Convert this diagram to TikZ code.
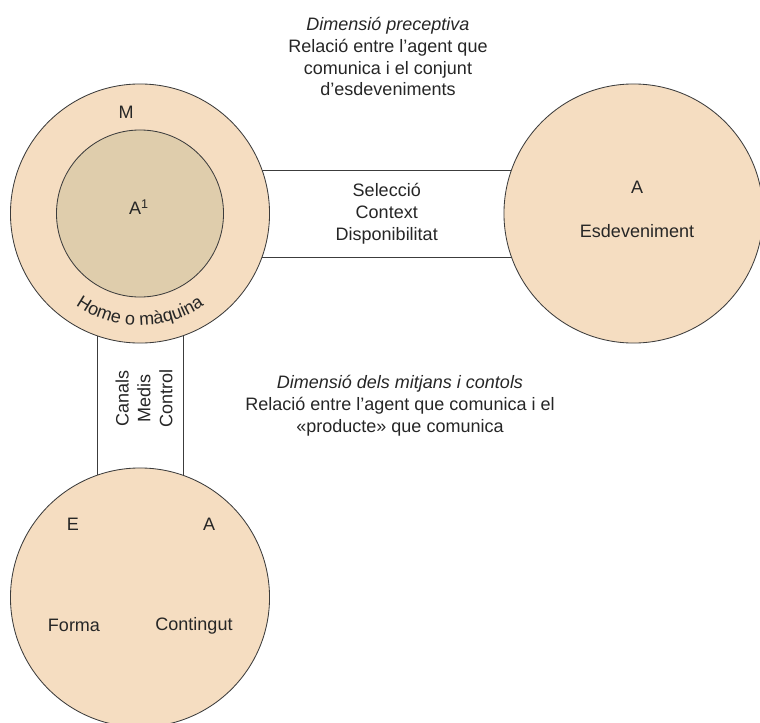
\documentclass[tikz,border=0pt]{standalone}
\usepackage{fontspec}
\setmainfont{Liberation Sans}
\usetikzlibrary{calc,backgrounds,decorations.text}
\definecolor{peach}{RGB}{245,221,193}
\definecolor{sand}{RGB}{223,205,172}
\definecolor{rim}{RGB}{60,60,60}

\begin{document}
\begin{tikzpicture}[x=0.025cm, y=-0.025cm,
  txt/.style={font=\fontsize{12.8}{15.6}\selectfont, text=black!85, align=center},
  disc/.style={circle, draw=rim, line width=0.6pt, fill=peach, minimum size=6.475cm, inner sep=0pt},
  band/.style={draw=rim, line width=0.6pt, fill=white}]
  \useasboundingbox (0,0) rectangle (760,722);

  % Circles
  \node[disc] (home) at (140,213.5) {};
  \node[disc, fill=sand, minimum size=4.175cm] (agent) at (140,213.5) {};
  \node[disc] (event) at (633.5,213.5) {};
  \node[disc] (product) at (140,597.5) {};

  % Bands between the circles
  \begin{scope}[on background layer]
    \draw[band] ([yshift=1.0875cm]home.center) rectangle ([yshift=-1.0875cm]event.center);
    \draw[band] ([xshift=-1.075cm]home.center) rectangle ([xshift=1.075cm]product.center);
  \end{scope}

  % Labels of the man or machine
  \node[txt] (mlabel) at (126,112) {M};
  \node[txt] (alabel) at (139,207) {A\textsuperscript{1}};
  \begin{scope}[x=1cm, y=1cm]
    \path[decorate, decoration={text along path, text align=center,
        text={|\fontsize{12.8}{15.6}\selectfont\color{black!85}|Home o màquina}}]
      ([shift={(-145:2.8cm)}]home.center) arc[start angle=-145, end angle=-35, radius=2.8cm];
  \end{scope}

  % Labels of the event
  \node[txt] (evlabel) at (637,187) {A};
  \node[txt] (evname) at (637,231) {Esdeveniment};

  % Labels of the product
  \node[txt] (elabel) at (73,524) {E};
  \node[txt] (plabel) at (209,524) {A};
  \node[txt] (form) at (74,625) {Forma};
  \node[txt] (content) at (194,626) {Contingut};

  % Band texts
  \node[txt] (select) at ($(home)!0.5!(event)$) {Selecció\\Context\\Disponibilitat};
  \node[txt, rotate=90] (channels) at (144,398) {Canals\\Medis\\Control};

  % Dimensions
  \node[txt] (percept) at (388,56.5) {\textit{Dimensió preceptiva}\\Relació entre l’agent que\\comunica i el conjunt\\d’esdeveniments};
  \node[txt] (means) at (400,406) {\textit{Dimensió dels mitjans i contols}\\Relació entre l’agent que comunica i el\\«producte» que comunica};
\end{tikzpicture}
\end{document}
